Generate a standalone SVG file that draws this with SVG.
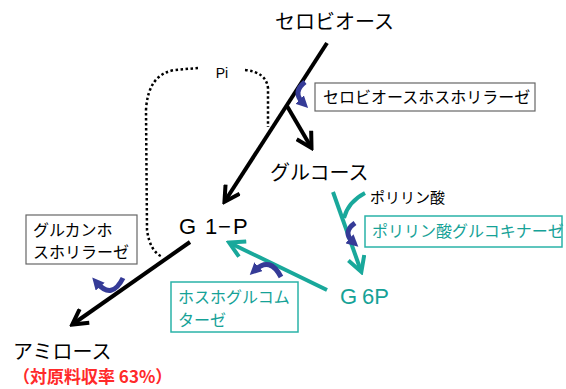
<svg xmlns="http://www.w3.org/2000/svg" width="566" height="389" viewBox="0 0 566 389">
<style>
text{font-family:"Noto Sans CJK JP","Liberation Sans",sans-serif;fill:#000}
.big{font-size:20px}
.mid{font-size:16px}
.teal{fill:#16a297}
.lat{font-family:"Liberation Sans","Noto Sans CJK JP",sans-serif}
.red{fill:#ff2a2a;font-weight:bold;font-size:17px}
.box{fill:#fff;stroke:#666;stroke-width:1.2}
.tbox{fill:#fff;stroke:#2ab3a8;stroke-width:1.5}
.blk{stroke:#000;stroke-width:4;fill:none}
.tl{stroke:#19a89b;stroke-width:4;fill:none}
.cur{stroke:#353b97;stroke-width:5;fill:none}
.dot{stroke:#000;stroke-width:2.5;fill:none;stroke-dasharray:2.5 2.5}
</style>
<defs>
<marker id="ab" viewBox="0 0 10 10" refX="8" refY="5" markerWidth="5" markerHeight="5" orient="auto" markerUnits="strokeWidth">
<polyline points="1,0.8 8.5,5 1,9.2" fill="none" stroke="#000" stroke-width="2"/>
</marker>
<marker id="at" viewBox="0 0 10 10" refX="8" refY="5" markerWidth="5" markerHeight="5" orient="auto" markerUnits="strokeWidth">
<polyline points="1,0.8 8.5,5 1,9.2" fill="none" stroke="#19a89b" stroke-width="2"/>
</marker>
<marker id="ac" viewBox="0 0 10 10" refX="4" refY="5" markerWidth="2.4" markerHeight="2.4" orient="auto" markerUnits="strokeWidth">
<path d="M0,0 L10,5 L0,10 z" fill="#353b97"/>
</marker>
</defs>
<g id="connectors">
<path class="dot" d="M198,68 L175,70 Q148,74 146,110 L147,230 Q150,252 163,257"/>
<path class="dot" d="M245,70 Q266,72 268,88 L268,127"/>
<path class="blk" d="M327,43 L225,201" marker-end="url(#ab)"/>
<path class="blk" d="M287,106 L311,147" marker-end="url(#ab)"/>
<path class="blk" d="M190,242 L73,324" marker-end="url(#ab)"/>
<path class="tl" d="M333,192 L361,271" marker-end="url(#at)"/>
<path class="tl" d="M365,193 Q348,202 344,218"/>
<path class="tl" d="M327,290 L230,243" marker-end="url(#at)"/>
<path class="cur" d="M305,82 Q292,92 303,103" marker-end="url(#ac)"/>
<path class="cur" d="M355,223 Q342,232 353,242" marker-end="url(#ac)"/>
<path class="cur" d="M281,277 Q270,256 255,270" marker-end="url(#ac)"/>
<path class="cur" d="M123,278 Q112,300 97,283" marker-end="url(#ac)"/>
</g>
<g id="cellobiose"><text class="big" x="275" y="29">セロビオース</text></g>
<g id="pi"><text class="lat" x="222" y="78" font-size="14" text-anchor="middle">Pi</text></g>
<g id="cellobiose-phosphorylase">
<rect class="box" x="315" y="83" width="220" height="28"/>
<text class="mid" x="323" y="103">セロビオースホスホリラーゼ</text>
</g>
<g id="glucose"><text class="big" x="270" y="180">グルコース</text></g>
<g id="polyphosphate"><text x="370" y="203" font-size="15">ポリリン酸</text></g>
<g id="polyphosphate-glucokinase">
<rect class="tbox" x="365" y="216" width="197" height="31"/>
<text class="mid teal" x="372" y="237">ポリリン酸グルコキナーゼ</text>
</g>
<g id="g1p"><text class="lat" x="179 197 205 218 233" y="234" font-size="22">G 1−P</text></g>
<g id="g6p"><text class="lat teal" x="340 357 362" y="304" font-size="22">G 6P</text></g>
<g id="glucan-phosphorylase">
<rect class="box" x="26" y="215" width="111" height="49"/>
<text class="mid" x="33" y="236">グルカンホ</text>
<text class="mid" x="33" y="258">スホリラーゼ</text>
</g>
<g id="phosphoglucomutase">
<rect class="tbox" x="171" y="282" width="127" height="50"/>
<text class="mid teal" x="178" y="303">ホスホグルコム</text>
<text class="mid teal" x="178" y="326">ターゼ</text>
</g>
<g id="amylose">
<text class="big" x="13" y="359">アミロース</text>
<text class="red" x="13" y="383">（対原料収率 63%）</text>
</g>
</svg>
